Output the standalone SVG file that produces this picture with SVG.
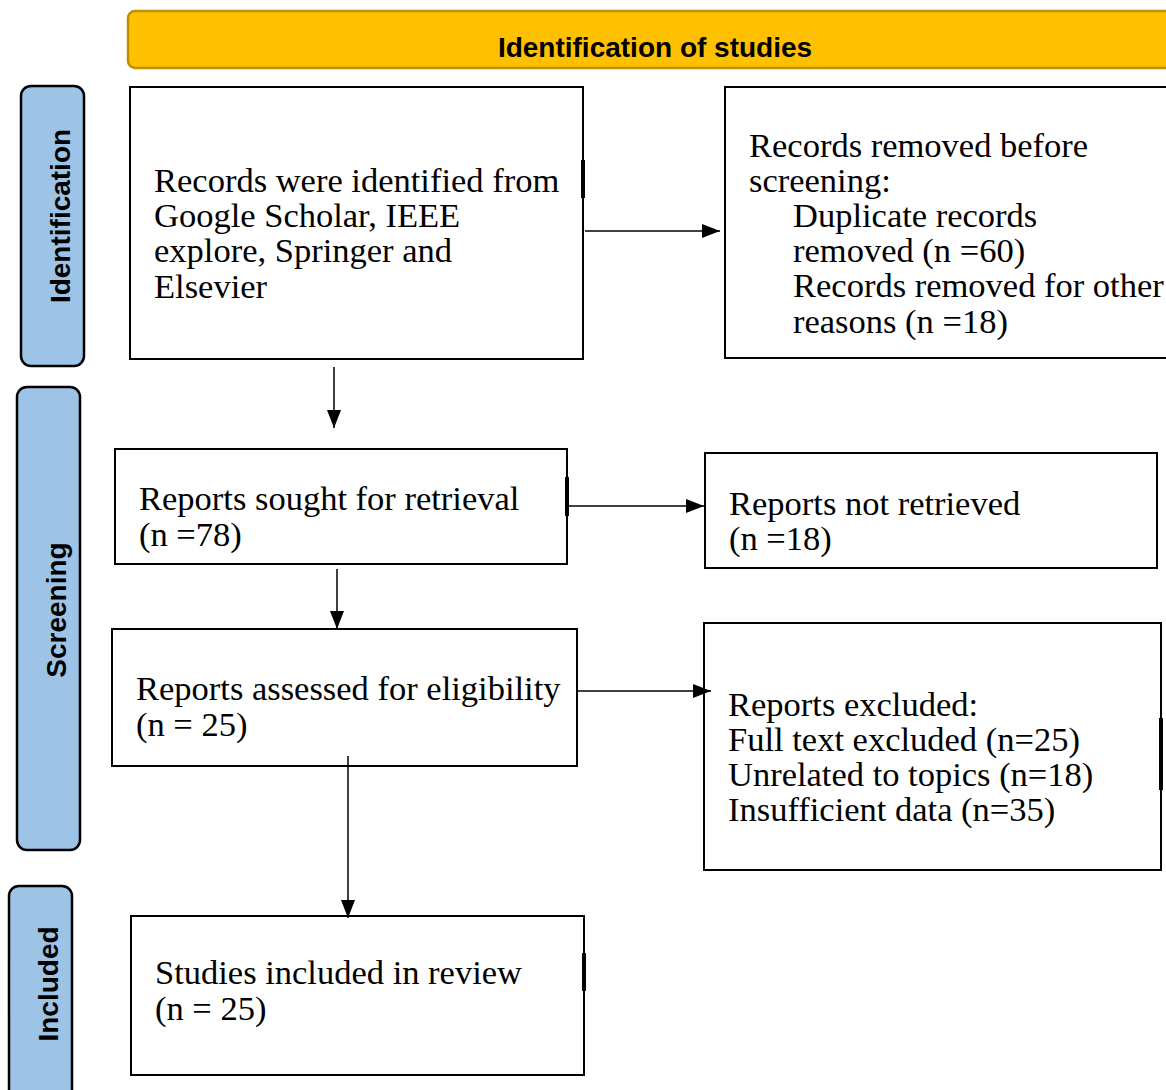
<svg xmlns="http://www.w3.org/2000/svg" width="1166" height="1090" viewBox="0 0 1166 1090">
<defs>
<style>
.box{fill:#fff;stroke:#000;stroke-width:2}
.side{fill:#9DC3E6;stroke:#000;stroke-width:2.5}
.hdr{fill:#FFC000;stroke:#BF9000;stroke-width:2.5}
.t{font-family:"Liberation Serif","Times New Roman",serif;font-size:34.5px;fill:#000}
.b{font-family:"Liberation Sans",Arial,sans-serif;font-weight:bold;font-size:28px;fill:#000}
.mk{stroke:#000;stroke-width:4}
.c{stroke:#000;stroke-width:1.5;fill:none}
</style>
<marker id="ah" markerWidth="12" markerHeight="12" viewBox="0 0 12 12" refX="12" refY="6" orient="auto" markerUnits="userSpaceOnUse">
<path d="M0,0 L12,6 L0,12 Z" fill="#000" transform="scale(1.5) translate(-4,-2)"/>
</marker>
<marker id="a" markerWidth="20" markerHeight="16" viewBox="0 0 20 16" refX="18" refY="8" orient="auto" markerUnits="userSpaceOnUse">
<path d="M0,1 L18,8 L0,15 Z" fill="#000"/>
</marker>
</defs>
<rect width="1166" height="1090" fill="#fff"/>

<g id="header">
<rect class="hdr" x="128" y="11" width="1050" height="57" rx="7"/>
<text class="b" x="655" y="57" text-anchor="middle">Identification of studies</text>
</g>

<g id="lane-identification">
<rect class="side" x="21" y="86" width="63" height="280" rx="10"/>
<text class="b" transform="translate(70,216) rotate(-90)" text-anchor="middle">Identification</text>
</g>
<g id="lane-screening">
<rect class="side" x="17" y="387" width="63" height="463" rx="10"/>
<text class="b" transform="translate(66,610) rotate(-90)" text-anchor="middle">Screening</text>
</g>
<g id="lane-included">
<rect class="side" x="9" y="886" width="63" height="220" rx="10"/>
<text class="b" transform="translate(58,984) rotate(-90)" text-anchor="middle">Included</text>
</g>

<g id="records-identified">
<rect class="box" x="130" y="87" width="453" height="272"/>
<line class="mk" x1="583" y1="160" x2="583" y2="198"/>
<text class="t" x="154" y="192">Records were identified from</text>
<text class="t" x="154" y="227">Google Scholar, IEEE</text>
<text class="t" x="154" y="262">explore, Springer and</text>
<text class="t" x="154" y="298">Elsevier</text>
</g>

<g id="records-removed">
<rect class="box" x="725" y="87" width="460" height="271"/>
<text class="t" x="749" y="157">Records removed before</text>
<text class="t" x="749" y="192">screening:</text>
<text class="t" x="793" y="227">Duplicate records</text>
<text class="t" x="793" y="262">removed (n =60)</text>
<text class="t" x="793" y="297">Records removed for other</text>
<text class="t" x="793" y="333">reasons (n =18)</text>
</g>

<g id="reports-sought">
<rect class="box" x="115" y="449" width="452" height="115"/>
<line class="mk" x1="567" y1="477" x2="567" y2="516"/>
<text class="t" x="139" y="510">Reports sought for retrieval</text>
<text class="t" x="139" y="546">(n =78)</text>
</g>

<g id="reports-not-retrieved">
<rect class="box" x="705" y="453" width="452" height="115"/>
<text class="t" x="729" y="515">Reports not retrieved</text>
<text class="t" x="729" y="550">(n =18)</text>
</g>

<g id="reports-assessed">
<rect class="box" x="112" y="629" width="465" height="137"/>
<text class="t" x="136" y="700">Reports assessed for eligibility</text>
<text class="t" x="136" y="736">(n = 25)</text>
</g>

<g id="reports-excluded">
<rect class="box" x="704" y="623" width="457" height="247"/>
<line class="mk" x1="1161" y1="718" x2="1161" y2="790"/>
<text class="t" x="728" y="716">Reports excluded:</text>
<text class="t" x="728" y="751">Full text excluded (n=25)</text>
<text class="t" x="728" y="786">Unrelated to topics (n=18)</text>
<text class="t" x="728" y="821">Insufficient data (n=35)</text>
</g>

<g id="studies-included">
<rect class="box" x="131" y="916" width="453" height="159"/>
<line class="mk" x1="584" y1="953" x2="584" y2="991"/>
<text class="t" x="155" y="984">Studies included in review</text>
<text class="t" x="155" y="1020">(n = 25)</text>
</g>

<g id="connectors">
<line class="c" x1="585" y1="231" x2="720" y2="231" marker-end="url(#a)"/>
<line class="c" x1="334" y1="367" x2="334" y2="428" marker-end="url(#a)"/>
<line class="c" x1="567" y1="506" x2="704" y2="506" marker-end="url(#a)"/>
<line class="c" x1="337" y1="569" x2="337" y2="629" marker-end="url(#a)"/>
<line class="c" x1="578" y1="691" x2="711" y2="691" marker-end="url(#a)"/>
<line class="c" x1="348" y1="756" x2="348" y2="918" marker-end="url(#a)"/>
</g>
</svg>
